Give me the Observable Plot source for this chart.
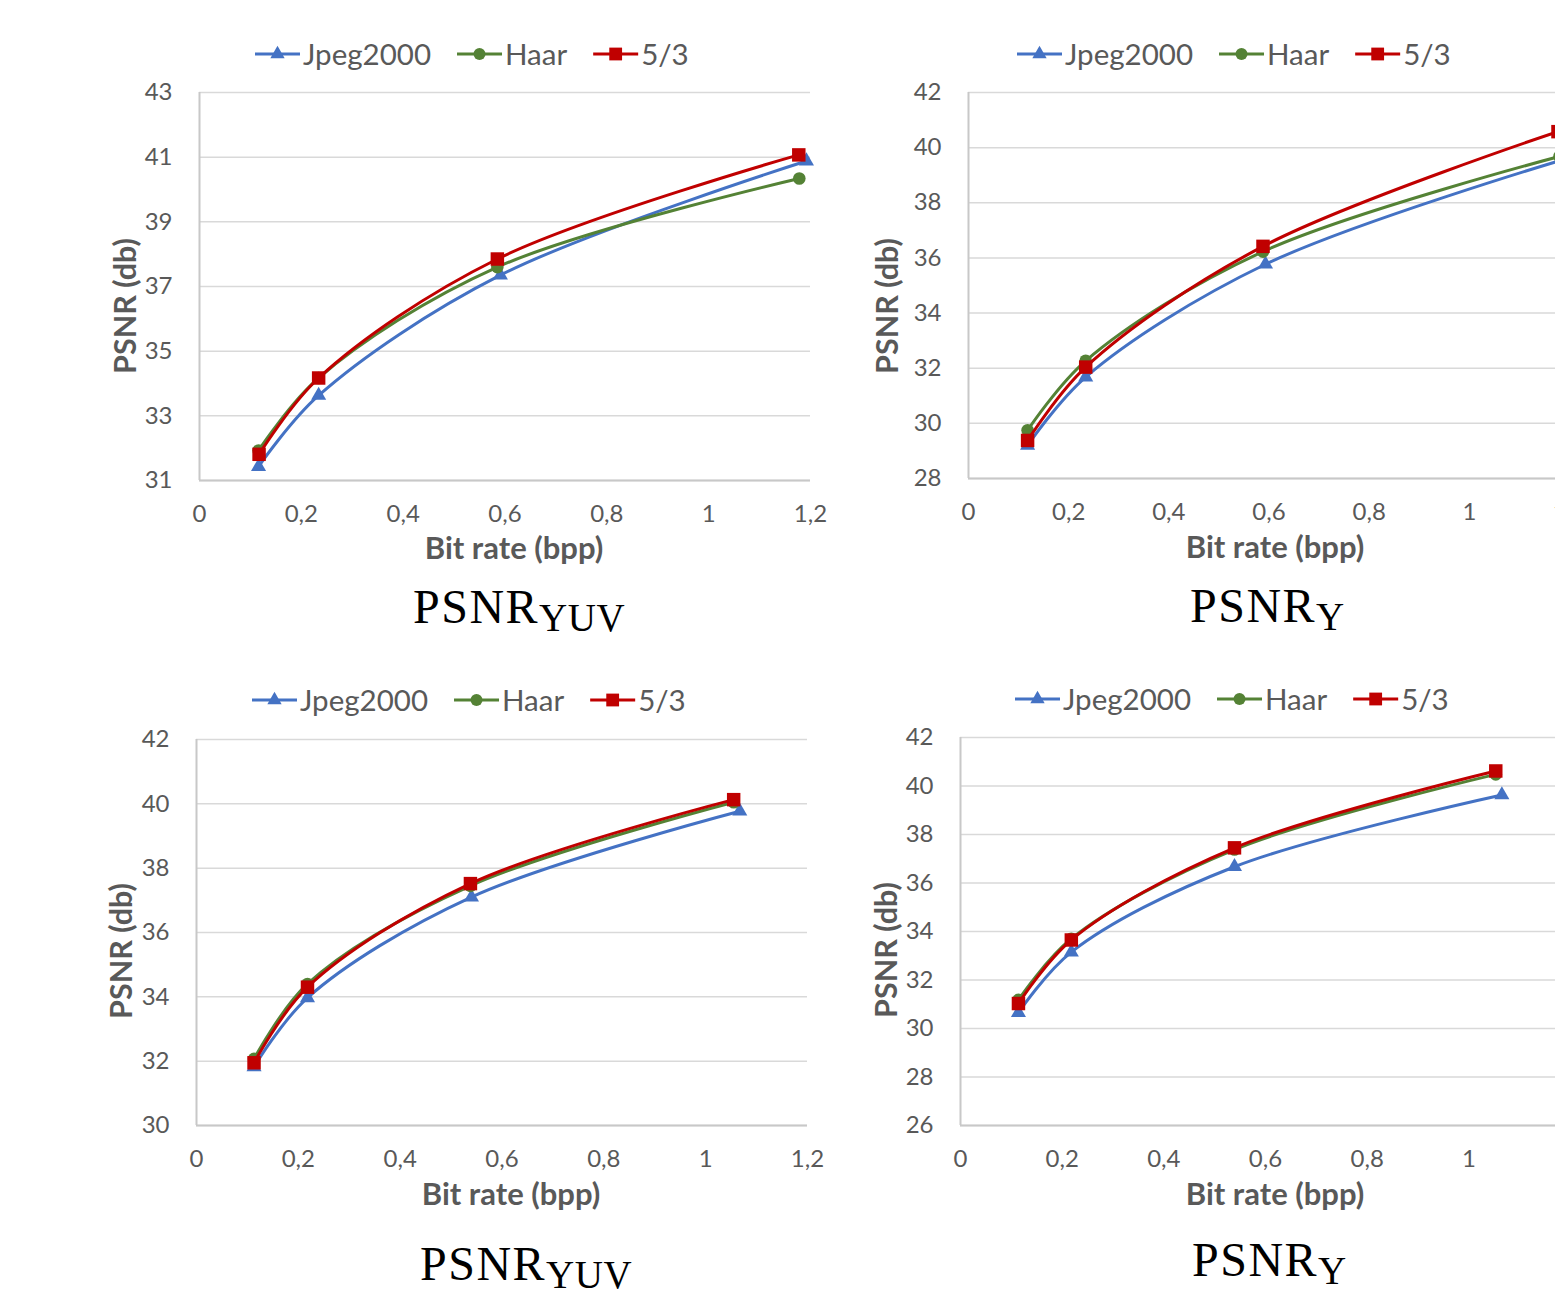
<!DOCTYPE html>
<html>
<head>
<meta charset="utf-8">
<script src="https://cdn.jsdelivr.net/npm/d3@7"></script>
<script src="https://cdn.jsdelivr.net/npm/@observablehq/plot@0.6"></script>
<style>
  html, body { margin: 0; padding: 0; background: #fff; }
  #page { position: relative; width: 1555px; height: 1296px; overflow: hidden; background: #fff; }
  #page > svg { position: absolute; }
</style>
</head>
<body>
<div id="page"></div>
<script>
// ---------- data ----------
const seriesNames = ["Jpeg2000", "Haar", "5/3"];
const seriesColors = ["#4472C4", "#548235", "#C00000"];
const seriesSymbols = ["triangle", "circle", "square"];
const xTicks = [0, 0.2, 0.4, 0.6, 0.8, 1, 1.2];

// Panel A (top-left, PSNR YUV)
const yTicksA = [31, 33, 35, 37, 39, 41, 43];
const aJpegX = [0.116, 0.234, 0.591, 1.192];
const aJpegY = [31.43, 33.63, 37.35, 40.88];
const aHaarX = [0.116, 0.234, 0.585, 1.178];
const aHaarY = [31.93, 34.17, 37.6, 40.34];
const a53X = [0.117, 0.234, 0.585, 1.177];
const a53Y = [31.81, 34.17, 37.85, 41.07];

// Panel B (top-right, PSNR Y)
const yTicksB = [28, 30, 32, 34, 36, 38, 40, 42];
const bJpegX = [0.118, 0.234, 0.593, 1.19];
const bJpegY = [29.2, 31.68, 35.77, 39.58];
const bHaarX = [0.118, 0.234, 0.588, 1.18];
const bHaarY = [29.75, 32.27, 36.23, 39.68];
const b53X = [0.118, 0.234, 0.588, 1.177];
const b53Y = [29.38, 32.04, 36.42, 40.58];

// Panel C (bottom-left, PSNR YUV)
const yTicksC = [30, 32, 34, 36, 38, 40, 42];
const cJpegX = [0.113, 0.218, 0.54, 1.067];
const cJpegY = [31.82, 33.97, 37.1, 39.77];
const cHaarX = [0.113, 0.218, 0.538, 1.055];
const cHaarY = [32.07, 34.4, 37.45, 40.05];
const c53X = [0.113, 0.218, 0.538, 1.055];
const c53Y = [31.95, 34.3, 37.52, 40.13];

// Panel D (bottom-right, PSNR Y)
const yTicksD = [26, 28, 30, 32, 34, 36, 38, 40, 42];
const dJpegX = [0.114, 0.218, 0.539, 1.065];
const dJpegY = [30.65, 33.15, 36.67, 39.63];
const dHaarX = [0.114, 0.218, 0.539, 1.053];
const dHaarY = [31.18, 33.7, 37.38, 40.48];
const d53X = [0.114, 0.218, 0.539, 1.053];
const d53Y = [31.03, 33.65, 37.45, 40.62];

// ---------- helpers ----------
const FONT = "Lato, 'Open Sans', sans-serif";
const TXT = "#595959";
const fmt = d => String(d).replace(".", ",");
const rows = (xs, ys) => xs.map((x, i) => ({x, y: ys[i]}));
const markerR = {triangle: 5.6, circle: 6.3, square: 7.6};

function makePanel(cfg) {
  const marks = [
    Plot.gridY(cfg.yTicks, {stroke: "#D9D9D9", strokeOpacity: 1, strokeWidth: 1.5}),
    Plot.ruleX([0], {stroke: "#C8C8C8", strokeWidth: 2}),
    Plot.ruleY([cfg.yTicks[0]], {stroke: "#C8C8C8", strokeWidth: 2}),
    Plot.axisX(xTicks, {tickSize: 0, tickPadding: 24, tickFormat: fmt, label: null, fontSize: 24}),
    Plot.axisY(cfg.yTicks, {tickSize: 0, tickPadding: 27, label: null, fontSize: 24})
  ];
  cfg.series.forEach(([xs, ys], i) => {
    const data = rows(xs, ys);
    marks.push(Plot.line(data, {x: "x", y: "y", stroke: seriesColors[i], strokeWidth: 3, curve: "catmull-rom"}));
    marks.push(Plot.dot(data, {x: "x", y: "y", fill: seriesColors[i], stroke: "none", symbol: seriesSymbols[i], r: markerR[seriesSymbols[i]]}));
  });
  const svg = Plot.plot({
    width: cfg.width, height: cfg.height,
    marginLeft: cfg.mL, marginRight: cfg.mR, marginTop: cfg.mT, marginBottom: cfg.mB,
    x: {domain: [0, 1.2], label: null},
    y: {domain: [cfg.yTicks[0], cfg.yTicks[cfg.yTicks.length - 1]], label: null},
    style: {fontFamily: FONT, fontSize: "24px", color: TXT, background: "transparent", overflow: "visible"},
    marks
  });
  svg.style.left = cfg.left + "px";
  svg.style.top = cfg.top + "px";
  document.getElementById("page").appendChild(svg);
}

makePanel({left: 0, top: 0, width: 860, height: 600, mL: 199, mR: 50, mT: 92, mB: 120, yTicks: yTicksA,
  series: [[aJpegX, aJpegY], [aHaarX, aHaarY], [a53X, a53Y]]});
makePanel({left: 780, top: 0, width: 800, height: 600, mL: 188, mR: 11, mT: 92, mB: 122, yTicks: yTicksB,
  series: [[bJpegX, bJpegY], [bHaarX, bHaarY], [b53X, b53Y]]});
makePanel({left: 0, top: 640, width: 860, height: 560, mL: 196, mR: 53, mT: 99, mB: 75, yTicks: yTicksC,
  series: [[cJpegX, cJpegY], [cHaarX, cHaarY], [c53X, c53Y]]});
makePanel({left: 780, top: 640, width: 800, height: 560, mL: 180, mR: 10, mT: 97, mB: 75, yTicks: yTicksD,
  series: [[dJpegX, dJpegY], [dHaarX, dHaarY], [d53X, d53Y]]});

// ---------- overlay: legends, axis titles, captions ----------
const NS = "http://www.w3.org/2000/svg";
const ov = document.createElementNS(NS, "svg");
ov.setAttribute("width", 1555); ov.setAttribute("height", 1296);
ov.style.left = "0px"; ov.style.top = "0px";
document.getElementById("page").appendChild(ov);

function el(tag, attrs, parent = ov) {
  const e = document.createElementNS(NS, tag);
  for (const k in attrs) e.setAttribute(k, attrs[k]);
  parent.appendChild(e);
  return e;
}
function symbolPath(name, r) {
  const map = {triangle: d3.symbolTriangle, circle: d3.symbolCircle, square: d3.symbolSquare};
  return d3.symbol(map[name], Math.PI * r * r)();
}
function legend(x0, cy) {
  let x = x0;
  seriesNames.forEach((name, i) => {
    el("line", {x1: x, x2: x + 45, y1: cy, y2: cy, stroke: seriesColors[i], "stroke-width": 3});
    el("path", {d: symbolPath(seriesSymbols[i], markerR[seriesSymbols[i]] * 0.95), transform: `translate(${x + 22.5},${cy})`, fill: seriesColors[i]});
    const t = el("text", {x: x + 48, y: cy + 10.5, fill: TXT, "font-family": FONT, "font-size": 29.5});
    t.textContent = name;
    x = x + 48 + t.getComputedTextLength() + 26;
  });
}
function yTitle(cx, cy) {
  const t = el("text", {transform: `translate(${cx + 11},${cy}) rotate(-90)`, "text-anchor": "middle", fill: TXT, "font-family": FONT, "font-weight": 700, "font-size": 30.5});
  t.textContent = "PSNR (db)";
}
function xTitle(cx, cy) {
  const t = el("text", {x: cx, y: cy + 11, "text-anchor": "middle", fill: TXT, "font-family": FONT, "font-weight": 700, "font-size": 31});
  t.textContent = "Bit rate (bpp)";
}
function caption(x, baseline, sub) {
  const t = el("text", {x, y: baseline, fill: "#000", "font-family": "'Liberation Serif', 'DejaVu Serif', serif", "font-size": 48, "letter-spacing": 1.5});
  const a = el("tspan", {}, t); a.textContent = "PSNR";
  const b = el("tspan", {dy: 8, "font-size": 39, "letter-spacing": 0.5}, t); b.textContent = sub;
}

legend(255, 54); legend(1017, 54); legend(252, 700); legend(1015, 699);
yTitle(125, 306); yTitle(887, 306); yTitle(121, 951); yTitle(886, 950);
xTitle(514, 548); xTitle(1275, 547); xTitle(511, 1194); xTitle(1275, 1194);
caption(413, 623, "YUV"); caption(1190, 622, "Y"); caption(420, 1280, "YUV"); caption(1192, 1276, "Y");
</script>
</body>
</html>
